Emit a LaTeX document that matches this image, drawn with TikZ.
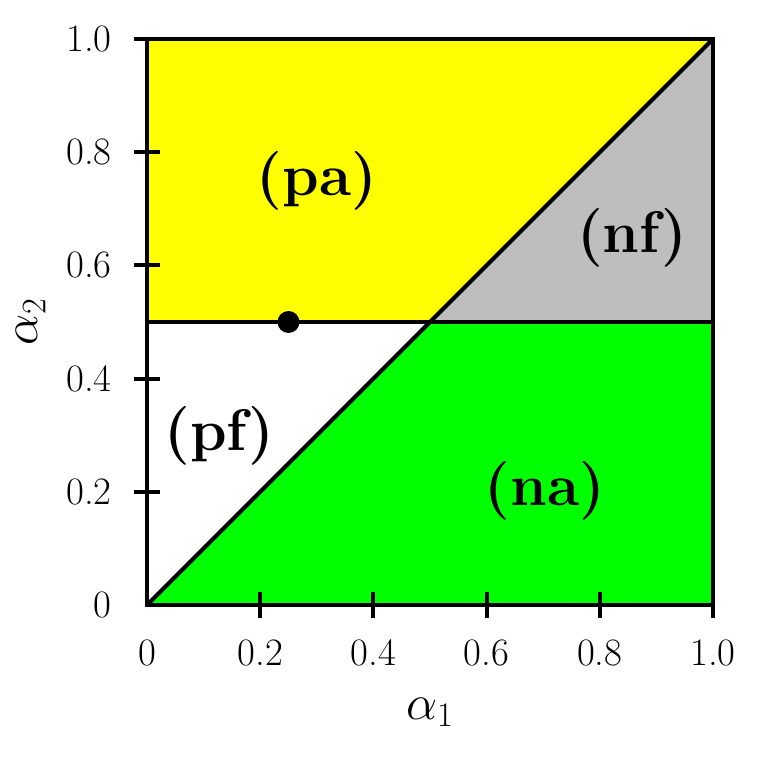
\documentclass[tikz,border=0pt]{standalone}
\definecolor{cyellow}{RGB}{255,255,0}
\definecolor{cgreen}{RGB}{0,255,0}
\definecolor{cgrey}{RGB}{190,190,190}
\tikzset{
  bline/.style={line width=2pt, line join=miter},
  ticklab/.style={inner sep=0pt, font=\fontsize{19.5}{23}\selectfont},
  reglab/.style={inner sep=0pt, font=\fontsize{29.5}{34}\selectfont\bfseries},
  axlab/.style={inner sep=0pt, font=\fontsize{26}{30}\selectfont},
}
\begin{document}
\begin{tikzpicture}[x=10cm,y=10cm]
\useasboundingbox (-0.2597,-0.2774) rectangle (1.1148,1.0689);
% regions
\fill[cyellow] (0,0.5) -- (0.5,0.5) -- (1,1) -- (0,1) -- cycle;
\fill[cgrey] (0.5,0.5) -- (1,0.5) -- (1,1) -- cycle;
\fill[cgreen] (0,0) -- (1,0) -- (1,0.5) -- (0.5,0.5) -- cycle;
% lines
\draw[bline] (0,0) -- (1,1);
\draw[bline] (0,0.5) -- (1,0.5);
\draw[bline] (0,0) rectangle (1,1);
% ticks
\foreach \t in {0.2,0.4,0.6,0.8,1.0} {
  \draw[bline] (\t,-0.023) -- (\t,0.023);
  \draw[bline] (-0.023,\t) -- (0.023,\t);
}
% tick labels
\foreach \t/\l in {0/0,0.2/0.2,0.4/0.4,0.6/0.6,0.8/0.8,1/1.0} {
  \node[ticklab, anchor=north] (xl\l) at (\t,-0.060) {\l};
  \node[ticklab, anchor=east] (yl\l) at (-0.062,\t) {\l};
}
% axis labels
\node[axlab] (ax1) at (0.5,-0.19) {$\alpha_1$};
\node[axlab, rotate=90] (ax2) at (-0.205,0.5) {$\alpha_2$};
% region labels
\node[reglab] (pa) at (0.300,0.750) {(pa)};
\node[reglab] (nf) at (0.857,0.649) {(nf)};
\node[reglab] (pf) at (0.128,0.298) {(pf)};
\node[reglab] (na) at (0.703,0.201) {(na)};
% dot
\fill (0.25,0.5) circle (0.0194);
\end{tikzpicture}
\end{document}
